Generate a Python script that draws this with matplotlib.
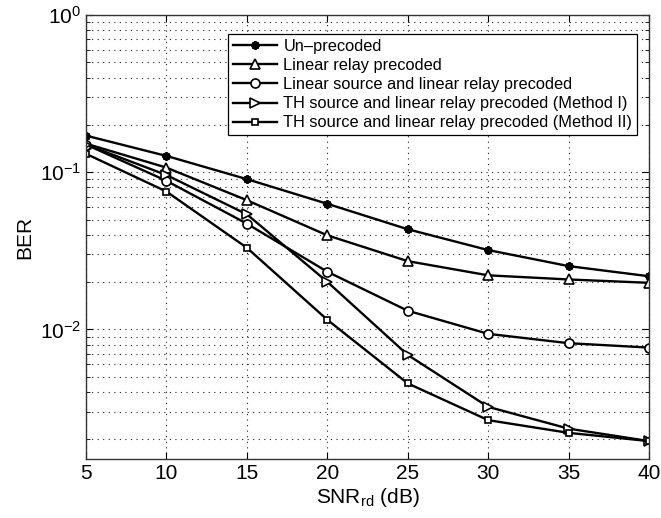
import matplotlib
matplotlib.use("Agg")
import matplotlib.pyplot as plt
from matplotlib.ticker import LogLocator, NullFormatter, FixedLocator

plt.rcParams['font.family'] = ['Liberation Sans', 'DejaVu Sans']
plt.rcParams['mathtext.fontset'] = 'custom'
plt.rcParams['mathtext.rm'] = 'Liberation Sans'
plt.rcParams['mathtext.it'] = 'Liberation Sans'

snr = [5, 10, 15, 20, 25, 30, 35, 40]
unprecoded = [0.171, 0.127, 0.0904, 0.063, 0.0434, 0.032, 0.0253, 0.0218]
linear_relay = [0.152, 0.107, 0.0664, 0.0397, 0.0272, 0.0221, 0.0208, 0.0198]
linear_src_relay = [0.150, 0.0882, 0.0471, 0.0233, 0.01316, 0.00938, 0.00818, 0.00767]
th_method1 = [0.150, 0.096, 0.054, 0.0201, 0.00689, 0.00322, 0.00234, 0.00195]
th_method2 = [0.131, 0.0754, 0.0331, 0.01153, 0.00454, 0.00265, 0.0022, 0.00195]

labels = ["Un\u2013precoded",
          "Linear relay precoded",
          "Linear source and linear relay precoded",
          "TH source and linear relay precoded (Method I)",
          "TH source and linear relay precoded (Method II)"]

fig = plt.figure(figsize=(6.61, 5.18), dpi=100)
ax = fig.add_axes([0.1301, 0.1139, 0.8517, 0.8571])

kw = dict(color='black', linewidth=1.7, markerfacecolor='white', markeredgecolor='black',
          markeredgewidth=1.2)
ax.plot(snr, unprecoded, marker=(8, 2, 0), markersize=6, label=labels[0],
        **{**kw, 'markerfacecolor': 'black', 'markeredgewidth': 1.6})
ax.plot(snr, linear_relay, marker='^', markersize=7, label=labels[1], **kw)
ax.plot(snr, linear_src_relay, marker='o', markersize=6.5, label=labels[2], **kw)
ax.plot(snr, th_method1, marker='>', markersize=7, label=labels[3], **kw)
ax.plot(snr, th_method2, marker='s', markersize=5, label=labels[4], **kw)

ax.set_yscale('log')
ax.set_xlim(5, 40)
ax.set_ylim(1.5e-3, 1)
ax.xaxis.set_major_locator(FixedLocator(snr))
ax.yaxis.set_major_locator(LogLocator(base=10, numticks=10))
ax.yaxis.set_minor_locator(LogLocator(base=10, subs=range(2, 10), numticks=20))
ax.yaxis.set_minor_formatter(NullFormatter())

ax.grid(True, which='major', linestyle=(0, (1, 4)), color='#222222', linewidth=0.8)
ax.grid(True, which='minor', axis='y', linestyle=(0, (1, 4)), color='#222222', linewidth=0.8)

ax.tick_params(which='both', direction='in', top=True, right=True, labelsize=15)
ax.tick_params(which='major', length=5)
ax.tick_params(which='minor', length=3)
for s in ax.spines.values():
    s.set_linewidth(1.0)
    s.set_color('#333333')

ax.set_xlabel(r"SNR$_{\mathrm{rd}}$ (dB)", fontsize=15, labelpad=2)
ax.set_ylabel("BER", fontsize=15, labelpad=4)

leg = ax.legend(loc='upper right', bbox_to_anchor=(0.979, 0.957), fontsize=11.8,
                frameon=True, fancybox=False, edgecolor='black', framealpha=1,
                handlelength=2.7, borderpad=0.3, labelspacing=0.25, handletextpad=0.4,
                borderaxespad=0.0)
leg.get_frame().set_linewidth(0.9)

fig.savefig("out.png", dpi=100)
